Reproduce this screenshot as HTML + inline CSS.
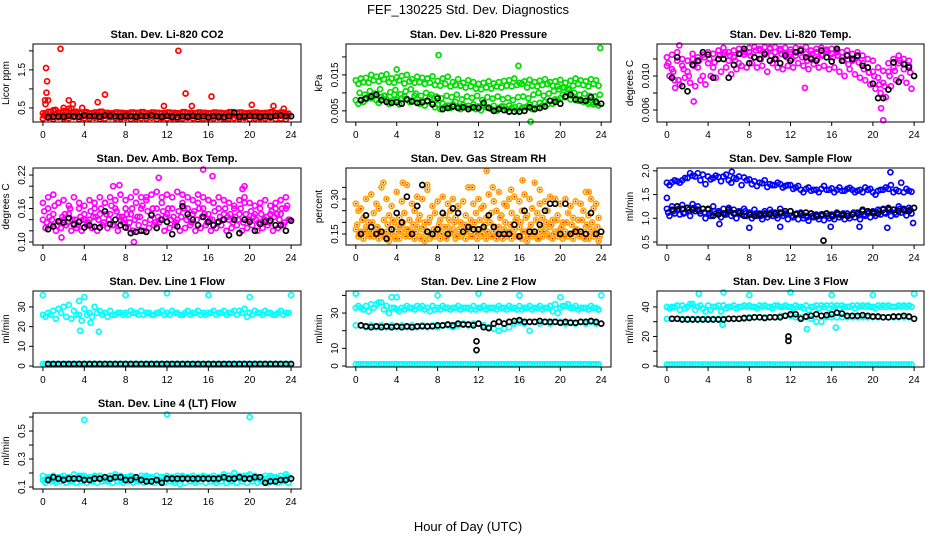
<!DOCTYPE html>
<html><head><meta charset="utf-8">
<style>
html,body{margin:0;padding:0;background:#fff;}
svg{display:block;font-family:"Liberation Sans",sans-serif;}
</style></head>
<body>
<svg id="chart" width="936" height="540" viewBox="0 0 936 540" xmlns="http://www.w3.org/2000/svg">
<text x="468" y="14" font-size="13" text-anchor="middle">FEF_130225  Std. Dev. Diagnostics</text>
<text x="468" y="531" font-size="13" text-anchor="middle">Hour of Day (UTC)</text>
</svg>
<script>
const H=[0,0.5,1,1.5,2,2.5,3,3.5,4,4.5,5,5.5,6,6.5,7,7.5,8,8.5,9,9.5,10,10.5,11,11.5,12,12.5,13,13.5,14,14.5,15,15.5,16,16.5,17,17.5,18,18.5,19,19.5,20,20.5,21,21.5,22,22.5,23,23.5];
const HB=[0.25,0.75,1.25,1.75,2.25,2.75,3.25,3.75,4.25,4.75,5.25,5.75,6.25,6.75,7.25,7.75,8.25,8.75,9.25,9.75,10.25,10.75,11.25,11.75,12.25,12.75,13.25,13.75,14.25,14.75,15.25,15.75,16.25,16.75,17.25,17.75,18.25,18.75,19.25,19.75,20.25,20.75,21.25,21.75,22.25,22.75,23.25,23.75];
const HC=[0.125,0.625,1.125,1.625,2.125,2.625,3.125,3.625,4.125,4.625,5.125,5.625,6.125,6.625,7.125,7.625,8.125,8.625,9.125,9.625,10.125,10.625,11.125,11.625,12.125,12.625,13.125,13.625,14.125,14.625,15.125,15.625,16.125,16.625,17.125,17.625,18.125,18.625,19.125,19.625,20.125,20.625,21.125,21.625,22.125,22.625,23.125,23.625];
const HD=[0.375,0.875,1.375,1.875,2.375,2.875,3.375,3.875,4.375,4.875,5.375,5.875,6.375,6.875,7.375,7.875,8.375,8.875,9.375,9.875,10.375,10.875,11.375,11.875,12.375,12.875,13.375,13.875,14.375,14.875,15.375,15.875,16.375,16.875,17.375,17.875,18.375,18.875,19.375,19.875,20.375,20.875,21.375,21.875,22.375,22.875,23.375,23.875];
const K=[0.5,1,1.5,2,2.5,3,3.5,4,4.5,5,5.5,6,6.5,7,7.5,8,8.5,9,9.5,10,10.5,11,11.5,12,12.5,13,13.5,14,14.5,15,15.5,16,16.5,17,17.5,18,18.5,19,19.5,20,20.5,21,21.5,22,22.5,23,23.5,24];
const XTICKS=[0,4,8,12,16,20,24];

const co2_a=[0.30,0.28,0.33,0.30,0.29,0.31,0.34,0.28,0.30,0.29,0.32,0.28,0.30,0.33,0.29,0.30,0.31,0.28,0.30,0.29,0.32,0.31,0.28,0.30,0.29,0.31,0.30,0.28,0.30,0.29,0.31,0.30,0.28,0.30,0.29,0.31,0.30,0.28,0.30,0.29,0.30,0.31,0.29,0.30,0.28,0.30,0.31,0.29];
const co2_b=[0.22,0.24,0.21,0.25,0.22,0.23,0.26,0.21,0.23,0.22,0.24,0.21,0.22,0.25,0.23,0.22,0.24,0.21,0.22,0.23,0.22,0.24,0.21,0.23,0.22,0.23,0.21,0.22,0.24,0.23,0.21,0.22,0.23,0.22,0.24,0.21,0.22,0.23,0.22,0.24,0.21,0.22,0.23,0.22,0.24,0.21,0.22,0.20];
const co2_c=[0.36,0.40,0.44,0.38,0.42,0.48,0.40,0.37,0.39,0.36,0.38,0.40,0.37,0.36,0.38,0.37,0.36,0.38,0.37,0.39,0.36,0.38,0.37,0.36,0.38,0.37,0.36,0.39,0.37,0.36,0.38,0.37,0.36,0.38,0.37,0.36,0.39,0.37,0.38,0.36,0.37,0.38,0.36,0.37,0.39,0.36,0.38,0.35];
const co2_k=[0.26,0.27,0.28,0.27,0.29,0.28,0.27,0.30,0.28,0.29,0.27,0.30,0.29,0.28,0.27,0.29,0.28,0.27,0.29,0.28,0.30,0.28,0.27,0.29,0.27,0.26,0.28,0.27,0.29,0.27,0.28,0.26,0.28,0.27,0.26,0.28,0.38,0.27,0.28,0.29,0.28,0.27,0.28,0.27,0.29,0.30,0.28,0.28];
const co2_out_h=[0.1,0.2,0.3,0.35,0.4,0.5,0.25,1.7,1.2,2.0,2.5,2.9,3.8,5.3,6.0,11.7,13.1,13.8,14.4,16.3,20.2,22.3,23.3];
const co2_out_v=[0.30,0.70,1.55,0.90,1.20,0.70,0.60,2.05,0.45,0.50,0.70,0.60,0.50,0.65,0.85,0.55,2.00,0.88,0.55,0.80,0.58,0.55,0.48];

const pr_a=[0.0135,0.0140,0.0142,0.0150,0.0145,0.0148,0.0152,0.0140,0.0143,0.0147,0.0150,0.0138,0.0145,0.0142,0.0140,0.0146,0.0133,0.0140,0.0145,0.0130,0.0138,0.0128,0.0135,0.0130,0.0125,0.0128,0.0132,0.0126,0.0130,0.0133,0.0135,0.0140,0.0128,0.0132,0.0136,0.0130,0.0134,0.0138,0.0130,0.0132,0.0136,0.0128,0.0134,0.0140,0.0135,0.0132,0.0138,0.0135];
const pr_b=[0.0125,0.0130,0.0128,0.0135,0.0132,0.0138,0.0130,0.0128,0.0135,0.0126,0.0132,0.0128,0.0130,0.0125,0.0128,0.0122,0.0120,0.0125,0.0118,0.0122,0.0120,0.0115,0.0118,0.0112,0.0110,0.0115,0.0112,0.0118,0.0115,0.0120,0.0118,0.0122,0.0125,0.0115,0.0120,0.0118,0.0122,0.0125,0.0120,0.0118,0.0115,0.0112,0.0120,0.0125,0.0122,0.0118,0.0125,0.0120];
const pr_c=[0.0080,0.0078,0.0082,0.0085,0.0080,0.0088,0.0082,0.0078,0.0080,0.0085,0.0083,0.0079,0.0082,0.0078,0.0075,0.0072,0.0068,0.0070,0.0065,0.0068,0.0062,0.0066,0.0064,0.0068,0.0062,0.0066,0.0060,0.0064,0.0058,0.0062,0.0065,0.0060,0.0064,0.0060,0.0068,0.0070,0.0072,0.0075,0.0078,0.0082,0.0085,0.0088,0.0082,0.0080,0.0078,0.0075,0.0072,0.0070];
const pr_d=[0.0070,0.0075,0.0090,0.0095,0.0072,0.0092,0.0070,0.0095,0.0068,0.0090,0.0075,0.0092,0.0070,0.0065,0.0088,0.0060,0.0055,0.0062,0.0058,0.0075,0.0055,0.0060,0.0058,0.0055,0.0052,0.0060,0.0055,0.0050,0.0062,0.0055,0.0058,0.0052,0.0058,0.0062,0.0055,0.0060,0.0065,0.0068,0.0070,0.0080,0.0095,0.0100,0.0090,0.0078,0.0075,0.0070,0.0068,0.0065];
const pr_e=[0.0100,0.0095,0.0105,0.0098,0.0110,0.0092,0.0102,0.0108,0.0096,0.0104,0.0110,0.0098,0.0092,0.0100,0.0095,0.0090,0.0085,0.0092,0.0088,0.0095,0.0082,0.0090,0.0086,0.0092,0.0080,0.0088,0.0084,0.0090,0.0082,0.0086,0.0080,0.0088,0.0090,0.0085,0.0095,0.0100,0.0092,0.0098,0.0105,0.0110,0.0115,0.0108,0.0100,0.0095,0.0098,0.0092,0.0090,0.0095];
const pr_k=[0.0080,0.0085,0.0090,0.0095,0.0080,0.0075,0.0072,0.0074,0.0070,0.0082,0.0076,0.0072,0.0074,0.0078,0.0068,0.0085,0.0055,0.0058,0.0062,0.0058,0.0060,0.0055,0.0060,0.0058,0.0072,0.0058,0.0050,0.0055,0.0052,0.0048,0.0048,0.0048,0.0050,0.0060,0.0055,0.0058,0.0062,0.0078,0.0075,0.0070,0.0090,0.0095,0.0082,0.0080,0.0078,0.0088,0.0075,0.0070];
const pr_out_h=[8.1,15.9,23.9,4.0,17.1];
const pr_out_v=[0.0205,0.0175,0.0225,0.0165,0.0020];

const lt_a=[0.0112,0.0108,0.0118,0.0112,0.0105,0.0120,0.0110,0.0100,0.0115,0.0110,0.0120,0.0125,0.0118,0.0122,0.0115,0.0125,0.0128,0.0122,0.0130,0.0125,0.0132,0.0128,0.0130,0.0126,0.0128,0.0124,0.0130,0.0126,0.0122,0.0128,0.0125,0.0130,0.0126,0.0128,0.0122,0.0125,0.0118,0.0122,0.0115,0.0110,0.0105,0.0098,0.0092,0.0105,0.0110,0.0115,0.0108,0.0112];
const lt_b=[0.0100,0.0095,0.0090,0.0098,0.0092,0.0088,0.0095,0.0090,0.0100,0.0098,0.0105,0.0110,0.0102,0.0108,0.0112,0.0110,0.0115,0.0110,0.0112,0.0105,0.0115,0.0110,0.0108,0.0112,0.0110,0.0115,0.0112,0.0108,0.0114,0.0110,0.0112,0.0108,0.0110,0.0105,0.0100,0.0108,0.0102,0.0098,0.0095,0.0090,0.0085,0.0080,0.0075,0.0088,0.0095,0.0098,0.0092,0.0085];
const lt_c=[0.0122,0.0125,0.0128,0.0120,0.0118,0.0126,0.0122,0.0125,0.0128,0.0126,0.0130,0.0133,0.0128,0.0130,0.0132,0.0128,0.0133,0.0134,0.0132,0.0134,0.0133,0.0134,0.0132,0.0133,0.0131,0.0133,0.0132,0.0134,0.0130,0.0132,0.0133,0.0131,0.0132,0.0130,0.0128,0.0130,0.0126,0.0128,0.0124,0.0120,0.0118,0.0110,0.0106,0.0115,0.0120,0.0124,0.0120,0.0118];
const lt_e=[0.0115,0.0105,0.0095,0.0108,0.0100,0.0112,0.0118,0.0122,0.0120,0.0116,0.0124,0.0128,0.0124,0.0118,0.0126,0.0130,0.0124,0.0130,0.0120,0.0128,0.0124,0.0120,0.0126,0.0122,0.0120,0.0128,0.0122,0.0118,0.0126,0.0120,0.0124,0.0128,0.0122,0.0124,0.0118,0.0114,0.0120,0.0116,0.0108,0.0104,0.0100,0.0090,0.0088,0.0100,0.0106,0.0118,0.0114,0.0104];
const lt_k=[0.0098,0.0122,0.0088,0.0082,0.0113,0.0118,0.0128,0.0125,0.0098,0.0120,0.0120,0.0098,0.0113,0.0126,0.0132,0.0115,0.0122,0.0120,0.0126,0.0118,0.0120,0.0115,0.0124,0.0118,0.0128,0.0130,0.0122,0.0120,0.0118,0.0130,0.0122,0.0117,0.0132,0.0118,0.0124,0.0120,0.0124,0.0112,0.0110,0.0091,0.0074,0.0074,0.0084,0.0116,0.0093,0.0114,0.0110,0.0100];
const lt_out_h=[20.8,21.0,1.2,2.6,0.8,13.4];
const lt_out_v=[0.0062,0.0048,0.0136,0.0070,0.0086,0.0086];

const ab_a=[0.14,0.16,0.15,0.17,0.14,0.15,0.13,0.16,0.15,0.14,0.16,0.15,0.17,0.15,0.16,0.14,0.16,0.15,0.17,0.16,0.18,0.15,0.16,0.17,0.15,0.16,0.14,0.17,0.16,0.15,0.17,0.16,0.15,0.17,0.16,0.15,0.14,0.16,0.15,0.17,0.14,0.15,0.16,0.14,0.15,0.16,0.15,0.16];
const ab_b=[0.125,0.13,0.12,0.125,0.13,0.12,0.125,0.12,0.13,0.125,0.12,0.13,0.125,0.13,0.12,0.135,0.125,0.12,0.13,0.12,0.125,0.13,0.135,0.12,0.125,0.13,0.12,0.125,0.13,0.12,0.125,0.13,0.12,0.125,0.13,0.12,0.125,0.13,0.12,0.125,0.13,0.12,0.125,0.13,0.12,0.125,0.13,0.14];
const ab_c=[0.17,0.18,0.185,0.17,0.175,0.165,0.18,0.17,0.165,0.175,0.17,0.18,0.17,0.18,0.175,0.185,0.175,0.18,0.19,0.18,0.175,0.185,0.19,0.18,0.185,0.18,0.19,0.185,0.18,0.175,0.185,0.18,0.175,0.17,0.18,0.175,0.17,0.165,0.175,0.18,0.17,0.165,0.17,0.175,0.165,0.17,0.175,0.18];
const ab_e=[0.155,0.145,0.165,0.135,0.15,0.16,0.14,0.145,0.14,0.155,0.145,0.16,0.15,0.165,0.155,0.145,0.15,0.16,0.145,0.165,0.155,0.16,0.145,0.155,0.16,0.145,0.155,0.16,0.145,0.155,0.16,0.15,0.14,0.155,0.145,0.16,0.15,0.145,0.16,0.15,0.155,0.14,0.15,0.145,0.155,0.15,0.16,0.165];
const ab_f=[0.135,0.14,0.13,0.145,0.135,0.14,0.13,0.14,0.135,0.145,0.14,0.135,0.14,0.13,0.145,0.14,0.135,0.14,0.145,0.135,0.14,0.135,0.14,0.145,0.14,0.135,0.145,0.14,0.135,0.14,0.145,0.135,0.14,0.135,0.14,0.145,0.135,0.14,0.135,0.14,0.145,0.135,0.14,0.135,0.145,0.14,0.135,0.14];
const ab_k=[0.123,0.128,0.137,0.135,0.143,0.132,0.136,0.126,0.13,0.127,0.126,0.155,0.132,0.14,0.13,0.126,0.116,0.118,0.12,0.118,0.148,0.125,0.14,0.136,0.114,0.128,0.164,0.15,0.14,0.13,0.145,0.136,0.13,0.136,0.14,0.112,0.14,0.116,0.14,0.136,0.12,0.132,0.136,0.138,0.13,0.13,0.12,0.138];
const ab_out_h=[6.8,7.4,11.2,15.5,16.4,19.5,19.3,8.8,1.8];
const ab_out_v=[0.200,0.202,0.215,0.230,0.218,0.200,0.195,0.100,0.108];

const rh_a=[0.17,0.16,0.18,0.16,0.17,0.15,0.16,0.17,0.16,0.18,0.17,0.16,0.18,0.17,0.16,0.15,0.17,0.16,0.18,0.17,0.15,0.16,0.17,0.18,0.16,0.17,0.15,0.16,0.18,0.17,0.16,0.17,0.18,0.16,0.17,0.15,0.16,0.17,0.18,0.16,0.17,0.16,0.15,0.17,0.16,0.18,0.17,0.16];
const rh_b=[0.25,0.22,0.20,0.24,0.26,0.21,0.23,0.20,0.22,0.24,0.21,0.25,0.23,0.20,0.22,0.24,0.21,0.23,0.25,0.22,0.20,0.23,0.21,0.24,0.26,0.22,0.24,0.25,0.23,0.27,0.24,0.22,0.25,0.23,0.26,0.24,0.22,0.25,0.21,0.23,0.20,0.24,0.22,0.21,0.25,0.23,0.26,0.22];
const rh_c=[0.28,0.26,0.30,0.32,0.28,0.35,0.30,0.27,0.33,0.29,0.36,0.28,0.31,0.30,0.34,0.27,0.29,0.31,0.28,0.30,0.27,0.29,0.35,0.28,0.30,0.27,0.32,0.29,0.33,0.28,0.30,0.31,0.29,0.32,0.30,0.37,0.28,0.29,0.31,0.30,0.28,0.30,0.27,0.29,0.28,0.33,0.30,0.28];
const rh_d=[0.14,0.13,0.15,0.14,0.13,0.14,0.12,0.14,0.13,0.15,0.14,0.13,0.14,0.12,0.13,0.14,0.13,0.14,0.15,0.13,0.14,0.13,0.14,0.15,0.14,0.13,0.14,0.13,0.15,0.14,0.13,0.14,0.13,0.12,0.14,0.13,0.14,0.15,0.13,0.14,0.13,0.14,0.13,0.15,0.14,0.13,0.14,0.12];
const rh_e=[0.19,0.21,0.17,0.20,0.18,0.16,0.19,0.21,0.18,0.20,0.17,0.19,0.21,0.18,0.20,0.17,0.19,0.18,0.21,0.20,0.17,0.19,0.18,0.20,0.21,0.19,0.20,0.18,0.22,0.20,0.19,0.21,0.20,0.22,0.19,0.21,0.18,0.20,0.19,0.21,0.18,0.20,0.19,0.17,0.21,0.19,0.20,0.18];
const rh_f=[0.15,0.16,0.14,0.15,0.16,0.14,0.15,0.13,0.16,0.14,0.15,0.16,0.13,0.15,0.14,0.16,0.15,0.13,0.16,0.14,0.15,0.16,0.14,0.13,0.15,0.16,0.14,0.15,0.13,0.16,0.15,0.14,0.16,0.14,0.15,0.13,0.16,0.14,0.15,0.16,0.14,0.15,0.16,0.14,0.13,0.15,0.16,0.14];
const rh_k=[0.15,0.23,0.18,0.15,0.16,0.13,0.17,0.24,0.20,0.31,0.15,0.27,0.36,0.16,0.15,0.17,0.24,0.15,0.26,0.24,0.16,0.18,0.17,0.17,0.18,0.23,0.18,0.15,0.15,0.15,0.19,0.14,0.25,0.16,0.16,0.19,0.25,0.28,0.28,0.15,0.28,0.15,0.16,0.16,0.15,0.24,0.15,0.16];
const rh_out_h=[12.8,16.3,4.6,2.7,7.0,11.4,13.4,15.2,18.0,22.8];
const rh_out_v=[0.42,0.38,0.37,0.37,0.36,0.35,0.35,0.34,0.34,0.33];

const sf_a=[1.75,1.76,1.78,1.80,1.85,1.90,1.95,1.92,1.88,1.85,1.87,1.88,1.80,1.85,1.88,1.86,1.82,1.78,1.75,1.80,1.72,1.70,1.72,1.68,1.70,1.65,1.60,1.62,1.58,1.60,1.62,1.60,1.63,1.60,1.58,1.62,1.60,1.58,1.55,1.60,1.55,1.58,1.60,1.62,1.55,1.57,1.55,1.58];
const sf_b=[1.70,1.80,1.75,1.85,1.95,1.88,1.80,1.72,1.82,1.90,1.78,1.92,1.75,1.83,1.70,1.80,1.72,1.68,1.74,1.66,1.70,1.75,1.65,1.70,1.62,1.68,1.55,1.65,1.60,1.55,1.68,1.60,1.55,1.65,1.58,1.64,1.55,1.60,1.65,1.62,1.50,1.60,1.65,1.70,1.60,1.75,1.62,1.56];
const sf_c=[1.20,1.25,1.18,1.28,1.22,1.30,1.25,1.20,1.18,1.25,1.15,1.20,1.22,1.18,1.15,1.20,1.12,1.18,1.10,1.15,1.18,1.12,1.20,1.10,1.15,1.08,1.12,1.05,1.10,1.08,1.05,1.10,1.08,1.12,1.05,1.10,1.08,1.12,1.15,1.10,1.15,1.18,1.20,1.22,1.18,1.25,1.20,1.22];
const sf_d=[1.05,1.10,1.08,1.12,1.05,1.15,1.10,1.00,1.05,1.10,1.02,1.08,1.05,1.00,1.08,1.05,1.00,1.05,0.98,1.02,1.05,1.00,1.05,0.98,1.02,0.98,1.00,0.95,1.02,0.98,0.96,1.00,0.98,1.02,0.98,1.00,1.02,0.98,1.05,1.02,1.05,1.08,1.10,1.05,1.08,1.12,1.06,1.10];
const sf_e=[1.12,1.15,1.20,1.10,1.18,1.22,1.15,1.12,1.10,1.15,1.12,1.08,1.15,1.10,1.12,1.15,1.08,1.10,1.05,1.08,1.12,1.06,1.10,1.08,1.05,1.10,1.06,1.02,1.05,1.04,1.08,1.05,1.04,1.08,1.10,1.05,1.12,1.06,1.08,1.12,1.10,1.15,1.12,1.18,1.12,1.20,1.15,1.18];
const sf_k=[1.18,1.25,1.20,1.22,1.18,1.18,1.20,1.20,1.05,1.08,1.10,1.18,1.10,1.12,1.05,1.08,1.05,1.08,1.10,1.08,1.10,1.12,1.15,1.15,1.08,1.10,1.12,1.10,1.05,1.08,1.10,1.05,1.10,1.08,1.05,1.08,1.10,1.18,1.15,1.12,1.10,1.18,1.20,1.18,1.15,1.18,1.15,1.22];
const sf_out_h=[0.0,6.3,21.7,8.0,11.0,15.9,21.4,23.9,5.1,18.7];
const sf_out_v=[1.43,1.98,1.97,0.80,0.82,0.82,0.80,0.90,0.88,0.82];
const sf_kout_h=[15.2];
const sf_kout_v=[0.53];

const l1_a=[26,27,28,29,30,31,28,26,29,27,30,28,27,28,26,27,27,28,27,28,27,26,27,28,27,28,27,26,28,27,28,27,27,28,27,28,27,28,28,29,27,28,27,28,27,26,28,27];
const l1_b=[25,26,24,27,25,24,26,23,26,25,27,26,25,26,27,26,26,27,26,26,27,26,27,26,26,27,26,27,26,27,26,26,27,26,27,26,27,26,27,25,26,27,26,27,26,27,26,27];
const l1_low=[1,1,1,1,1,1,1,1,1,1,1,1,1,1,1,1,1,1,1,1,1,1,1,1,1,1,1,1,1,1,1,1,1,1,1,1,1,1,1,1,1,1,1,1,1,1,1,1];
const l1_k=[1,1,1,1,1,1,1,1,1,1,1,1,1,1,1,1,1,1,1,1,1,1,1,1,1,1,1,1,1,1,1,1,1,1,1,1,1,1,1,1,1,1,1,1,1,1,1,1];
const l1_out_h=[0.0,8.0,12.0,16.0,20.0,24.0,3.5,4.0,5.4,3.6,4.6];
const l1_out_v=[36,36,37,36,35,36,33,35,17.5,18,22];

const l2_a=[33,33,34,35,35,36,34,33,32,33,34,33,34,34,33,34,33,34,33,33,34,33,33,34,33,34,33,33,34,33,34,33,34,33,34,33,34,33,34,35,33,34,33,34,33,33,34,33];
const l2_b=[34,32,31,33,36,32,30,33,31,32,33,32,33,32,31,32,32,33,32,33,32,33,32,32,33,32,33,32,33,32,33,32,32,33,32,33,32,33,31,30,34,35,33,32,33,32,33,32];
const l2_c=[23,23,22,23,22,23,22,23,22,23,22,23,22,23,22,23,22,23,23,22,23,24,23,24,24,23,22,21,20,21,22,24,25,24,20,25,24,25,24,25,25,24,25,24,25,24,25,24];
const l2_low=[1,1,1,1,1,1,1,1,1,1,1,1,1,1,1,1,1,1,1,1,1,1,1,1,1,1,1,1,1,1,1,1,1,1,1,1,1,1,1,1,1,1,1,1,1,1,1,1];
const l2_k=[23,22.5,22,22.5,22,22.5,22,22.5,22,22.5,22,22.5,22.5,22.5,22.5,23,23,23.5,23,24,23.5,23.5,23,24,22,21.5,24,25,24,25,25.5,26,25,25,25,25.5,25,25,25,24.5,25,24.5,24.5,25,25,25.5,25,24];
const l2_out_h=[0.0,8.0,12.0,16.0,20.0,24.0,3.5,4.0];
const l2_out_v=[41,40,41,40,39,40,39,39];
const l2_kout_h=[11.8,11.8];
const l2_kout_v=[14,9];

const l3_a=[40,40,41,41,40,42,40,39,41,40,41,41,40,41,40,41,41,40,41,41,40,41,40,41,40,41,40,41,40,41,41,41,41,41,41,40,41,41,41,41,40,41,41,41,40,41,41,41];
const l3_b=[39,40,38,39,42,38,41,37,38,40,37,39,40,39,40,40,40,39,40,40,39,41,40,40,39,40,39,38,40,39,40,39,40,39,40,40,39,40,40,40,39,40,40,40,40,40,40,40];
const l3_c=[32,32,32,32,32,32,32,32,32,32,32,32,32,32,32,32,33,33,33,33,33,33,34,34,34,33,33,33,32,30,30,33,33,33,33,33,33,33,33,33,33,33,33,33,33,33,33,33];
const l3_low=[1,1,1,1,1,1,1,1,1,1,1,1,1,1,1,1,1,1,1,1,1,1,1,1,1,1,1,1,1,1,1,1,1,1,1,1,1,1,1,1,1,1,1,1,1,1,1,1];
const l3_k=[32,32,31.5,31.5,31.5,31.5,31.5,31.5,31.5,31.5,31.5,32,32,32,32.5,32.5,33,33,32.5,33,33,33,34,35,35,32,33.5,34,35,34,34.5,35,36,35.5,34,34,34,34.5,34,33.5,33.5,33,33,33.5,33.5,34,33.5,32];
const l3_out_h=[3.1,5.5,8.0,12.0,16.0,20.0,24.0,5.4,13.6,16.4];
const l3_out_v=[49,50,48,50,48,48,49,28,25,26];
const l3_kout_h=[11.8,11.8];
const l3_kout_v=[20,17];

const l4_a=[0.15,0.16,0.15,0.17,0.16,0.15,0.16,0.18,0.16,0.15,0.17,0.16,0.15,0.16,0.17,0.15,0.16,0.17,0.15,0.16,0.17,0.16,0.15,0.17,0.16,0.15,0.16,0.17,0.16,0.15,0.16,0.17,0.16,0.15,0.17,0.16,0.15,0.17,0.16,0.18,0.16,0.17,0.15,0.16,0.17,0.16,0.15,0.17];
const l4_b=[0.13,0.14,0.13,0.14,0.13,0.14,0.13,0.14,0.13,0.14,0.13,0.14,0.14,0.13,0.14,0.13,0.14,0.13,0.14,0.13,0.14,0.13,0.14,0.13,0.14,0.13,0.12,0.13,0.14,0.13,0.14,0.13,0.14,0.13,0.14,0.13,0.14,0.13,0.14,0.13,0.14,0.13,0.14,0.13,0.14,0.13,0.14,0.13];
const l4_c=[0.18,0.17,0.18,0.17,0.18,0.17,0.19,0.17,0.18,0.17,0.18,0.18,0.17,0.18,0.19,0.18,0.17,0.18,0.17,0.18,0.18,0.17,0.18,0.17,0.18,0.17,0.18,0.18,0.17,0.18,0.17,0.18,0.17,0.18,0.17,0.19,0.18,0.20,0.18,0.17,0.19,0.18,0.17,0.18,0.18,0.17,0.18,0.19];
const l4_k=[0.15,0.17,0.16,0.15,0.16,0.16,0.16,0.15,0.15,0.16,0.16,0.17,0.16,0.17,0.17,0.15,0.15,0.17,0.15,0.14,0.14,0.15,0.13,0.16,0.16,0.16,0.16,0.16,0.16,0.16,0.16,0.16,0.16,0.16,0.17,0.16,0.16,0.17,0.16,0.16,0.17,0.17,0.13,0.14,0.14,0.15,0.15,0.16];
const l4_out_h=[4.0,12.0,20.0];
const l4_out_v=[0.58,0.62,0.60];

const RED="#ff0000",GRN="#00dd00",MAG="#ff00ff",ORG="#ffa500",BLU="#0000ff",CYN="#00ffff",BLK="#000000";
const COLS=[[33,301],[346,611],[657,924]];
const ROWS=[[44,122],[168,245],[291,367],[413,489]];

const panels=[
 {name:"co2",title:"Stan. Dev. Li-820 CO2",ylab:"Licor ppm",c:0,r:0,y0:0.13,y1:2.18,ticks:[0.5,1,1.5,2],labs:["0.5","","1.5",""],
  s:[[H,co2_b,RED],[HB,co2_a,RED],[H,co2_c,RED],[HB,co2_c,RED],[co2_out_h,co2_out_v,RED],[K,co2_k,BLK]]},
 {name:"pressure",title:"Stan. Dev. Li-820 Pressure",ylab:"kPa",c:1,r:0,y0:0.0019,y1:0.0236,ticks:[0.005,0.010,0.015,0.020],labs:["0.005","","0.015",""],
  s:[[H,pr_a,GRN],[HB,pr_b,GRN],[H,pr_c,GRN],[HB,pr_d,GRN],[HD,pr_e,GRN],[pr_out_h,pr_out_v,GRN],[K,pr_k,BLK]]},
 {name:"li820-temp",title:"Stan. Dev. Li-820 Temp.",ylab:"degrees C",c:2,r:0,y0:0.00459,y1:0.01376,ticks:[0.006,0.008,0.010,0.012],labs:["0.006","","0.010",""],
  s:[[H,lt_a,MAG],[HB,lt_b,MAG],[H,lt_c,MAG],[HC,lt_e,MAG],[lt_out_h,lt_out_v,MAG],[K,lt_k,BLK]]},
 {name:"amb-box-temp",title:"Stan. Dev. Amb. Box Temp.",ylab:"degrees C",c:0,r:1,y0:0.0946,y1:0.2326,ticks:[0.10,0.12,0.14,0.16,0.18,0.20,0.22],labs:["0.10","","","0.16","","","0.22"],
  s:[[H,ab_a,MAG],[HB,ab_b,MAG],[H,ab_c,MAG],[HC,ab_e,MAG],[HD,ab_f,MAG],[ab_out_h,ab_out_v,MAG],[K,ab_k,BLK]]},
 {name:"gas-stream-rh",title:"Stan. Dev. Gas Stream RH",ylab:"percent",c:1,r:1,y0:0.103,y1:0.433,ticks:[0.15,0.20,0.25,0.30,0.35],labs:["0.15","","","0.30",""],
  s:[[H,rh_a,ORG],[HB,rh_b,ORG],[H,rh_c,ORG],[HB,rh_d,ORG],[HC,rh_e,ORG],[HD,rh_f,ORG],[rh_out_h,rh_out_v,ORG],[K,rh_k,BLK]],inner:RED},
 {name:"sample-flow",title:"Stan. Dev. Sample Flow",ylab:"ml/min",c:2,r:1,y0:0.437,y1:2.06,ticks:[0.5,1.0,1.5,2.0],labs:["0.5","1.0","1.5","2.0"],
  s:[[H,sf_a,BLU],[HB,sf_b,BLU],[H,sf_c,BLU],[HB,sf_d,BLU],[HC,sf_e,BLU],[sf_out_h,sf_out_v,BLU],[K,sf_k,BLK],[sf_kout_h,sf_kout_v,BLK]]},
 {name:"line1-flow",title:"Stan. Dev. Line 1 Flow",ylab:"ml/min",c:0,r:2,y0:-0.5,y1:38.1,ticks:[0,10,20,30],labs:["0","10","20","30"],
  s:[[H,l1_a,CYN],[HB,l1_b,CYN],[H,l1_low,CYN],[HB,l1_low,CYN],[l1_out_h,l1_out_v,CYN],[K,l1_k,BLK]]},
 {name:"line2-flow",title:"Stan. Dev. Line 2 Flow",ylab:"ml/min",c:1,r:2,y0:-0.57,y1:42.5,ticks:[0,10,20,30,40],labs:["0","10","","30",""],
  s:[[H,l2_a,CYN],[HB,l2_b,CYN],[H,l2_c,CYN],[H,l2_low,CYN],[HB,l2_low,CYN],[l2_out_h,l2_out_v,CYN],[K,l2_k,BLK],[l2_kout_h,l2_kout_v,BLK]]},
 {name:"line3-flow",title:"Stan. Dev. Line 3 Flow",ylab:"ml/min",c:2,r:2,y0:-0.68,y1:50.8,ticks:[0,10,20,30,40],labs:["0","","20","","40"],
  s:[[H,l3_a,CYN],[HB,l3_b,CYN],[H,l3_c,CYN],[H,l3_low,CYN],[HB,l3_low,CYN],[l3_out_h,l3_out_v,CYN],[K,l3_k,BLK],[l3_kout_h,l3_kout_v,BLK]]},
 {name:"line4-flow",title:"Stan. Dev. Line 4 (LT) Flow",ylab:"ml/min",c:0,r:3,y0:0.0857,y1:0.629,ticks:[0.1,0.2,0.3,0.4,0.5,0.6],labs:["0.1","","0.3","","0.5",""],
  s:[[H,l4_a,CYN],[HB,l4_b,CYN],[H,l4_c,CYN],[HB,l4_a,CYN],[l4_out_h,l4_out_v,CYN],[K,l4_k,BLK]]}
];

const NS="http://www.w3.org/2000/svg";
const svg=document.getElementById('chart');
function mk(tag,attrs,parent){const e=document.createElementNS(NS,tag);for(const k in attrs)e.setAttribute(k,attrs[k]);parent.appendChild(e);return e;}

panels.forEach(p=>{
  const [L,R]=COLS[p.c],[T,B]=ROWS[p.r];
  const xs=h=>L+(h+0.96)/25.92*(R-L);
  const ys=v=>B-(v-p.y0)/(p.y1-p.y0)*(B-T);
  const g=mk('g',{},svg);
  
  
  const t=mk('text',{x:(L+R)/2,y:T-6,'font-size':11,'font-weight':'bold','text-anchor':'middle'},g);
  t.textContent=p.title;
  
  
  const yl=mk('text',{x:0,y:0,'font-size':10,'text-anchor':'middle',transform:`translate(${L-24},${(T+B)/2}) rotate(-90)`},g);
  yl.textContent=p.ylab;
  
  
  const pts=mk('g',{fill:'none','stroke-width':1.7},g);
  
  
  p.s.forEach(([hs,vs,col])=>{
    for(let i=0;i<vs.length&&i<hs.length;i++){
      const c=mk('circle',{cx:xs(hs[i]).toFixed(1),cy:ys(vs[i]).toFixed(1),r:2.5,stroke:col},pts);
      
      
      if(p.inner&&col!==BLK){mk('circle',{cx:xs(hs[i]).toFixed(1),cy:ys(vs[i]).toFixed(1),r:0.9,fill:p.inner,stroke:'none'},pts);}
    }
  });
  const box=mk('rect',{x:L,y:T,width:R-L,height:B-T,fill:'none',stroke:'#000','stroke-width':1},g);
  
  
  const xa=mk('g',{},g);
  
  
  XTICKS.forEach(h=>{
    const x=xs(h);
    mk('line',{x1:x,x2:x,y1:B,y2:B+4,stroke:'#000'},xa);
    const tl=mk('text',{x:x,y:B+16,'font-size':10,'text-anchor':'middle'},xa);
    tl.textContent=String(h);
  });
  const ya=mk('g',{},g);
  
  
  p.ticks.forEach((v,i)=>{
    const y=ys(v);
    mk('line',{x1:L-4,x2:L,y1:y,y2:y,stroke:'#000'},ya);
    if(p.labs[i]){
      const tl=mk('text',{x:0,y:0,'font-size':10,'text-anchor':'middle',transform:`translate(${L-8},${y}) rotate(-90)`},ya);
      tl.textContent=p.labs[i];
    }
  });
});
</script>
</body></html>
